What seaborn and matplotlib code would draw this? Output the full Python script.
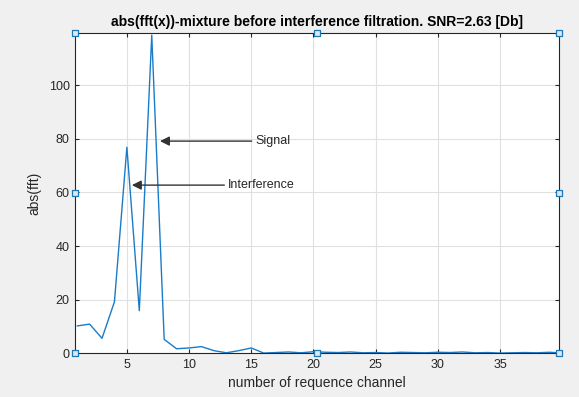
import matplotlib
matplotlib.use("Agg")
import matplotlib.pyplot as plt
import seaborn as sns
import pandas as pd
import numpy as np

channels = list(range(1, 41))
magnitude = [10.2, 10.9, 5.6, 19.2, 76.8, 15.9, 118.6, 5.2, 1.7, 2.0,
             2.5, 1.0, 0.2, 1.0, 2.0, 0.1, 0.3, 0.5, 0.2, 0.6,
             0.4, 0.3, 0.5, 0.2, 0.3, 0.1, 0.4, 0.3, 0.2, 0.4,
             0.3, 0.5, 0.2, 0.3, 0.1, 0.2, 0.3, 0.2, 0.4, 0.1]
xticks = [5, 10, 15, 20, 25, 30, 35]
yticks = [0, 20, 40, 60, 80, 100]
title = "abs(fft(x))-mixture before interference filtration. SNR=2.63 [Db]"

df = pd.DataFrame({"channel": channels, "mag": magnitude})

sns.set_style("whitegrid")
plt.rcParams["font.family"] = ["Liberation Sans", "DejaVu Sans"]

fig = plt.figure(figsize=(5.79, 3.97), dpi=100, facecolor="#f0f0f0")
ax = fig.add_axes([0.130, 0.110, 0.8355, 0.8069])
ax.set_facecolor("white")
sns.lineplot(data=df, x="channel", y="mag", ax=ax, color="#1a7cc8", linewidth=1.0)

ax.set_xlim(0.85, 39.75)
ax.set_ylim(0, 119.4)
ax.set_xticks(xticks)
ax.set_yticks(yticks)
ax.grid(True, color="#e0e0e0", linewidth=0.8)
for s in ax.spines.values():
    s.set_color("#262626")
    s.set_linewidth(0.8)
ax.tick_params(direction="in", length=3, labelsize=9, colors="#262626",
               top=True, right=True, bottom=True, left=True, pad=4)
ax.set_xlabel("number of requence channel", fontsize=10, color="#262626", labelpad=4)
ax.set_ylabel("abs(fft)", fontsize=10, color="#262626", labelpad=5)
ax.set_title(title, fontsize=10, fontweight="bold", color="black", pad=5)

arrowprops = dict(arrowstyle="-|>", color="#333333", lw=1.0, mutation_scale=14,
                  shrinkA=0, shrinkB=0)
ax.annotate("Signal", xy=(7.66, 79.1), xytext=(15.3, 79.1), fontsize=9,
            va="center", ha="left", arrowprops=arrowprops)
ax.annotate("Interference", xy=(5.4, 62.7), xytext=(13.1, 62.7), fontsize=9,
            va="center", ha="left", arrowprops=arrowprops)

hx = [0, 0.5, 1, 0, 1, 0, 0.5, 1]
hy = [0, 0, 0, 0.5, 0.5, 1, 1, 1]
ax.scatter(hx, hy, transform=ax.transAxes, marker="s", s=22, facecolor="#dbe9f5",
           edgecolor="#1f77b4", linewidth=0.9, clip_on=False, zorder=5)

fig.savefig("out.png", dpi=100, facecolor=fig.get_facecolor())
